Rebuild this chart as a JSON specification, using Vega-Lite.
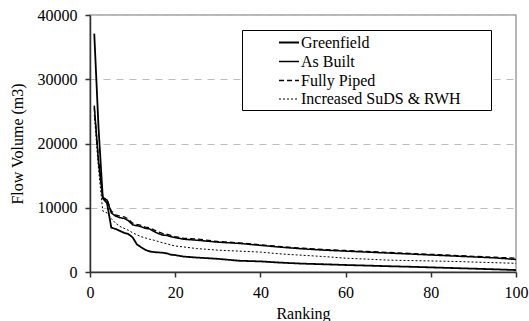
{
  "$schema": "https://vega.github.io/schema/vega-lite/v6.json",
  "width": 426,
  "height": 257,
  "autosize": {"type": "none"},
  "padding": {"left": 90, "top": 15, "right": 13, "bottom": 49},
  "background": "white",
  "config": {
    "view": {"stroke": "#a0a0a0", "strokeWidth": 1.5},
    "font": "Liberation Serif",
    "style": {
      "guide-label": {"font": "Liberation Serif", "fill": "black"},
      "guide-title": {"font": "Liberation Serif", "fill": "black"}
    },
    "axis": {
      "labelFont": "Liberation Serif",
      "titleFont": "Liberation Serif",
      "labelFontSize": 16,
      "titleFontSize": 16,
      "labelColor": "black",
      "titleColor": "black",
      "titleFontWeight": "normal",
      "domainColor": "#333333",
      "domainWidth": 1.5,
      "tickColor": "#333333",
      "tickWidth": 1.5,
      "tickSize": 5
    },
    "axisY": {"labelFont": "Liberation Serif", "titleFont": "Liberation Serif"},
    "axisX": {"labelFont": "Liberation Serif", "titleFont": "Liberation Serif"},
    "legend": {
      "orient": "none",
      "legendX": 152,
      "legendY": 15,
      "fillColor": "white",
      "strokeColor": "black",
      "strokeWidth": 1,
      "padding": 3,
      "labelFont": "Liberation Serif",
      "titleFont": "Liberation Serif",
      "labelFontSize": 16,
      "labelColor": "black",
      "rowPadding": 1,
      "symbolType": "M-1.35,0H1",
      "symbolSize": 289,
      "symbolStrokeColor": "black",
      "symbolOffset": 36,
      "labelOffset": 1,
      "titleOrient": "right",
      "titlePadding": 27
    }
  },
  "data": {
    "values": [
      {"rank": 1, "volume": 37100, "series": "Greenfield"},
      {"rank": 2, "volume": 22500, "series": "Greenfield"},
      {"rank": 3, "volume": 11500, "series": "Greenfield"},
      {"rank": 4, "volume": 10700, "series": "Greenfield"},
      {"rank": 5, "volume": 6900, "series": "Greenfield"},
      {"rank": 6, "volume": 6700, "series": "Greenfield"},
      {"rank": 7, "volume": 6400, "series": "Greenfield"},
      {"rank": 8, "volume": 6100, "series": "Greenfield"},
      {"rank": 9, "volume": 5900, "series": "Greenfield"},
      {"rank": 10, "volume": 5400, "series": "Greenfield"},
      {"rank": 11, "volume": 4300, "series": "Greenfield"},
      {"rank": 12, "volume": 3850, "series": "Greenfield"},
      {"rank": 13, "volume": 3450, "series": "Greenfield"},
      {"rank": 14, "volume": 3200, "series": "Greenfield"},
      {"rank": 15, "volume": 3100, "series": "Greenfield"},
      {"rank": 16, "volume": 3050, "series": "Greenfield"},
      {"rank": 17, "volume": 3000, "series": "Greenfield"},
      {"rank": 18, "volume": 2900, "series": "Greenfield"},
      {"rank": 19, "volume": 2700, "series": "Greenfield"},
      {"rank": 20, "volume": 2620, "series": "Greenfield"},
      {"rank": 22, "volume": 2400, "series": "Greenfield"},
      {"rank": 25, "volume": 2250, "series": "Greenfield"},
      {"rank": 30, "volume": 2050, "series": "Greenfield"},
      {"rank": 35, "volume": 1750, "series": "Greenfield"},
      {"rank": 40, "volume": 1650, "series": "Greenfield"},
      {"rank": 45, "volume": 1450, "series": "Greenfield"},
      {"rank": 50, "volume": 1300, "series": "Greenfield"},
      {"rank": 55, "volume": 1200, "series": "Greenfield"},
      {"rank": 60, "volume": 1090, "series": "Greenfield"},
      {"rank": 65, "volume": 1000, "series": "Greenfield"},
      {"rank": 70, "volume": 900, "series": "Greenfield"},
      {"rank": 75, "volume": 820, "series": "Greenfield"},
      {"rank": 80, "volume": 720, "series": "Greenfield"},
      {"rank": 85, "volume": 620, "series": "Greenfield"},
      {"rank": 90, "volume": 520, "series": "Greenfield"},
      {"rank": 95, "volume": 420, "series": "Greenfield"},
      {"rank": 100, "volume": 300, "series": "Greenfield"},

      {"rank": 1, "volume": 25900, "series": "As Built"},
      {"rank": 2, "volume": 17200, "series": "As Built"},
      {"rank": 3, "volume": 11500, "series": "As Built"},
      {"rank": 4, "volume": 11200, "series": "As Built"},
      {"rank": 5, "volume": 9200, "series": "As Built"},
      {"rank": 6, "volume": 8700, "series": "As Built"},
      {"rank": 7, "volume": 8450, "series": "As Built"},
      {"rank": 8, "volume": 8350, "series": "As Built"},
      {"rank": 9, "volume": 8000, "series": "As Built"},
      {"rank": 10, "volume": 7350, "series": "As Built"},
      {"rank": 11, "volume": 7200, "series": "As Built"},
      {"rank": 12, "volume": 7050, "series": "As Built"},
      {"rank": 13, "volume": 6800, "series": "As Built"},
      {"rank": 14, "volume": 6700, "series": "As Built"},
      {"rank": 15, "volume": 6300, "series": "As Built"},
      {"rank": 16, "volume": 6000, "series": "As Built"},
      {"rank": 17, "volume": 5750, "series": "As Built"},
      {"rank": 18, "volume": 5700, "series": "As Built"},
      {"rank": 19, "volume": 5500, "series": "As Built"},
      {"rank": 20, "volume": 5350, "series": "As Built"},
      {"rank": 22, "volume": 5100, "series": "As Built"},
      {"rank": 25, "volume": 4950, "series": "As Built"},
      {"rank": 30, "volume": 4650, "series": "As Built"},
      {"rank": 35, "volume": 4450, "series": "As Built"},
      {"rank": 40, "volume": 4150, "series": "As Built"},
      {"rank": 45, "volume": 3850, "series": "As Built"},
      {"rank": 50, "volume": 3600, "series": "As Built"},
      {"rank": 55, "volume": 3400, "series": "As Built"},
      {"rank": 60, "volume": 3250, "series": "As Built"},
      {"rank": 65, "volume": 3100, "series": "As Built"},
      {"rank": 70, "volume": 2950, "series": "As Built"},
      {"rank": 75, "volume": 2800, "series": "As Built"},
      {"rank": 80, "volume": 2650, "series": "As Built"},
      {"rank": 85, "volume": 2500, "series": "As Built"},
      {"rank": 90, "volume": 2350, "series": "As Built"},
      {"rank": 95, "volume": 2200, "series": "As Built"},
      {"rank": 100, "volume": 1950, "series": "As Built"},

      {"rank": 1, "volume": 25500, "series": "Fully Piped"},
      {"rank": 2, "volume": 17500, "series": "Fully Piped"},
      {"rank": 3, "volume": 11600, "series": "Fully Piped"},
      {"rank": 4, "volume": 11300, "series": "Fully Piped"},
      {"rank": 5, "volume": 9500, "series": "Fully Piped"},
      {"rank": 6, "volume": 8900, "series": "Fully Piped"},
      {"rank": 7, "volume": 8700, "series": "Fully Piped"},
      {"rank": 8, "volume": 8600, "series": "Fully Piped"},
      {"rank": 9, "volume": 8250, "series": "Fully Piped"},
      {"rank": 10, "volume": 7600, "series": "Fully Piped"},
      {"rank": 11, "volume": 7400, "series": "Fully Piped"},
      {"rank": 12, "volume": 7250, "series": "Fully Piped"},
      {"rank": 13, "volume": 7000, "series": "Fully Piped"},
      {"rank": 14, "volume": 6900, "series": "Fully Piped"},
      {"rank": 15, "volume": 6550, "series": "Fully Piped"},
      {"rank": 16, "volume": 6250, "series": "Fully Piped"},
      {"rank": 17, "volume": 6000, "series": "Fully Piped"},
      {"rank": 18, "volume": 5900, "series": "Fully Piped"},
      {"rank": 19, "volume": 5700, "series": "Fully Piped"},
      {"rank": 20, "volume": 5500, "series": "Fully Piped"},
      {"rank": 22, "volume": 5250, "series": "Fully Piped"},
      {"rank": 25, "volume": 5150, "series": "Fully Piped"},
      {"rank": 30, "volume": 4750, "series": "Fully Piped"},
      {"rank": 35, "volume": 4550, "series": "Fully Piped"},
      {"rank": 40, "volume": 4250, "series": "Fully Piped"},
      {"rank": 45, "volume": 3950, "series": "Fully Piped"},
      {"rank": 50, "volume": 3700, "series": "Fully Piped"},
      {"rank": 55, "volume": 3500, "series": "Fully Piped"},
      {"rank": 60, "volume": 3350, "series": "Fully Piped"},
      {"rank": 65, "volume": 3200, "series": "Fully Piped"},
      {"rank": 70, "volume": 3050, "series": "Fully Piped"},
      {"rank": 75, "volume": 2900, "series": "Fully Piped"},
      {"rank": 80, "volume": 2750, "series": "Fully Piped"},
      {"rank": 85, "volume": 2600, "series": "Fully Piped"},
      {"rank": 90, "volume": 2450, "series": "Fully Piped"},
      {"rank": 95, "volume": 2300, "series": "Fully Piped"},
      {"rank": 100, "volume": 2150, "series": "Fully Piped"},

      {"rank": 1, "volume": 24500, "series": "Increased SuDS & RWH"},
      {"rank": 2, "volume": 16000, "series": "Increased SuDS & RWH"},
      {"rank": 3, "volume": 9500, "series": "Increased SuDS & RWH"},
      {"rank": 4, "volume": 9200, "series": "Increased SuDS & RWH"},
      {"rank": 5, "volume": 8300, "series": "Increased SuDS & RWH"},
      {"rank": 6, "volume": 7600, "series": "Increased SuDS & RWH"},
      {"rank": 7, "volume": 7100, "series": "Increased SuDS & RWH"},
      {"rank": 8, "volume": 6800, "series": "Increased SuDS & RWH"},
      {"rank": 9, "volume": 6500, "series": "Increased SuDS & RWH"},
      {"rank": 10, "volume": 6100, "series": "Increased SuDS & RWH"},
      {"rank": 11, "volume": 5800, "series": "Increased SuDS & RWH"},
      {"rank": 12, "volume": 5500, "series": "Increased SuDS & RWH"},
      {"rank": 13, "volume": 5300, "series": "Increased SuDS & RWH"},
      {"rank": 14, "volume": 5100, "series": "Increased SuDS & RWH"},
      {"rank": 15, "volume": 4950, "series": "Increased SuDS & RWH"},
      {"rank": 16, "volume": 4750, "series": "Increased SuDS & RWH"},
      {"rank": 17, "volume": 4550, "series": "Increased SuDS & RWH"},
      {"rank": 18, "volume": 4400, "series": "Increased SuDS & RWH"},
      {"rank": 19, "volume": 4200, "series": "Increased SuDS & RWH"},
      {"rank": 20, "volume": 4050, "series": "Increased SuDS & RWH"},
      {"rank": 22, "volume": 3900, "series": "Increased SuDS & RWH"},
      {"rank": 25, "volume": 3650, "series": "Increased SuDS & RWH"},
      {"rank": 30, "volume": 3400, "series": "Increased SuDS & RWH"},
      {"rank": 35, "volume": 3250, "series": "Increased SuDS & RWH"},
      {"rank": 40, "volume": 3100, "series": "Increased SuDS & RWH"},
      {"rank": 45, "volume": 2800, "series": "Increased SuDS & RWH"},
      {"rank": 50, "volume": 2600, "series": "Increased SuDS & RWH"},
      {"rank": 55, "volume": 2400, "series": "Increased SuDS & RWH"},
      {"rank": 60, "volume": 2150, "series": "Increased SuDS & RWH"},
      {"rank": 65, "volume": 2000, "series": "Increased SuDS & RWH"},
      {"rank": 70, "volume": 1850, "series": "Increased SuDS & RWH"},
      {"rank": 75, "volume": 1780, "series": "Increased SuDS & RWH"},
      {"rank": 80, "volume": 1720, "series": "Increased SuDS & RWH"},
      {"rank": 85, "volume": 1650, "series": "Increased SuDS & RWH"},
      {"rank": 90, "volume": 1550, "series": "Increased SuDS & RWH"},
      {"rank": 95, "volume": 1450, "series": "Increased SuDS & RWH"},
      {"rank": 100, "volume": 1350, "series": "Increased SuDS & RWH"}
    ]
  },
  "mark": {"type": "line", "color": "black", "clip": true},
  "encoding": {
    "x": {
      "field": "rank",
      "type": "quantitative",
      "scale": {"domain": [0, 100], "nice": false},
      "axis": {
        "title": "Ranking",
        "values": [0, 20, 40, 60, 80, 100],
        "grid": false,
        "labelFont": "Liberation Serif",
        "titleFont": "Liberation Serif",
        "labelPadding": 7,
        "titlePadding": 5,
        "labelFlush": false
      }
    },
    "y": {
      "field": "volume",
      "type": "quantitative",
      "scale": {"domain": [0, 40000], "nice": false},
      "axis": {
        "title": "Flow Volume (m3)",
        "values": [0, 10000, 20000, 30000, 40000],
        "format": "d",
        "grid": true,
        "gridColor": "#bdbdbd",
        "gridDash": [7, 6],
        "gridWidth": 1,
        "labelFont": "Liberation Serif",
        "titleFont": "Liberation Serif",
        "labelPadding": 8,
        "titlePadding": 12,
        "labelFlush": false
      }
    },
    "strokeDash": {
      "field": "series",
      "type": "nominal",
      "scale": {
        "domain": ["Greenfield", "As Built", "Fully Piped", "Increased SuDS & RWH"],
        "range": [[1, 0], [1, 0], [5, 3], [2, 2]]
      },
      "legend": {"title": " ", "labelFont": "Liberation Serif"}
    },
    "strokeWidth": {
      "field": "series",
      "type": "nominal",
      "scale": {
        "domain": ["Greenfield", "As Built", "Fully Piped", "Increased SuDS & RWH"],
        "range": [1.8, 1, 1, 1]
      },
      "legend": {"title": " ", "labelFont": "Liberation Serif"}
    }
  }
}
